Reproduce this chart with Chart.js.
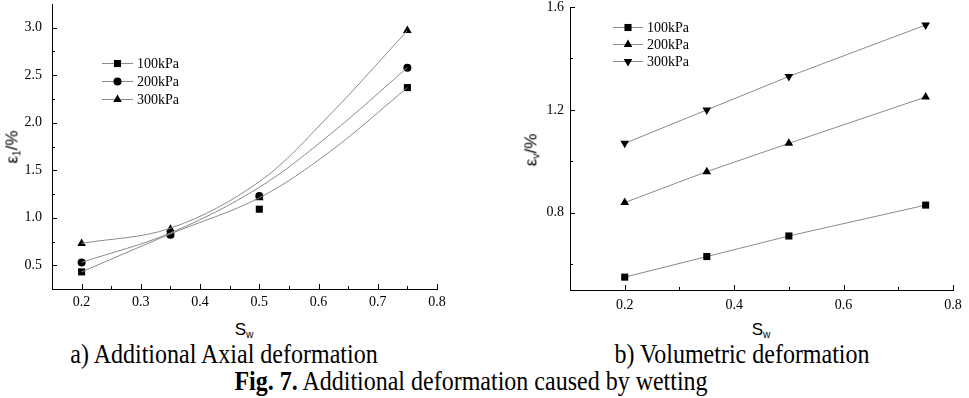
<!DOCTYPE html>
<html lang="en">
<head>
  <meta charset="UTF-8">
  <title>Fig. 7 Additional deformation caused by wetting</title>
  <script src="https://cdn.jsdelivr.net/npm/chart.js"></script>
  <style>
    body {
      margin: 0;
      background: #fff;
      width: 969px;
      height: 398px;
      position: relative;
      overflow: hidden;
      font-family: "Liberation Serif", "Times New Roman", serif;
      color: #000;
    }
    .box { position: absolute; }
    .ytitle, .xtitle {
      position: absolute;
      font-family: "Liberation Sans", Arial, sans-serif;
      font-size: 17px;
      white-space: nowrap;
      line-height: 1;
    }
    .ytitle { transform: translate(-50%, -50%) rotate(-90deg); }
    .xtitle { transform: translateX(-50%); }
    sub { font-size: 0.6em; vertical-align: -0.3em; }
    .caption {
      position: absolute;
      font-size: 24px;
      line-height: 24px;
      white-space: nowrap;
      transform: translateX(-50%) scaleY(1.15);
    }
  </style>
</head>
<body>
  <div class="box" style="left:0;top:0;width:460px;height:320px"><canvas id="axialChart"></canvas></div>
  <div class="box" style="left:500px;top:0;width:469px;height:320px"><canvas id="volChart"></canvas></div>

  <div class="ytitle" style="left:13px;top:147px">ε<sub>1</sub>/%</div>
  <div class="ytitle" style="left:532px;top:150px">ε<sub>v</sub>/%</div>
  <div class="xtitle" style="left:244px;top:321px">S<sub>w</sub></div>
  <div class="xtitle" style="left:761px;top:321px">S<sub>w</sub></div>

  <div class="caption" style="left:224px;top:342px">a) Additional Axial deformation</div>
  <div class="caption" style="left:742px;top:342px">b) Volumetric deformation</div>
  <div class="caption" style="left:471px;top:369px"><b>Fig. 7.</b> Additional deformation caused by wetting</div>

<script>
  // measured points (S_w vs strain %)
  const swVals = [0.2, 0.35, 0.5, 0.75];

  const axial100 = [0.43, 0.83, 1.09, 2.37];
  const axial200 = [0.53, 0.82, 1.23, 2.58];
  const axial300 = [0.73, 0.88, 1.21, 2.97];

  // fitted curves
  const fitSw = [0.2, 0.35, 0.5, 0.62, 0.75];
  const fit100 = [0.43, 0.83, 1.21, 1.70, 2.37];
  const fit200 = [0.53, 0.84, 1.32, 1.88, 2.58];
  const fit300 = [0.73, 0.89, 1.38, 2.09, 2.97];

  const vol100 = [0.55, 0.63, 0.71, 0.83];
  const vol200 = [0.84, 0.96, 1.07, 1.25];
  const vol300 = [1.07, 1.20, 1.33, 1.53];

  const axialXTicks = [0.2, 0.3, 0.4, 0.5, 0.6, 0.7, 0.8];
  const axialYTicks = [0.5, 1.0, 1.5, 2.0, 2.5, 3.0];
  const volXTicks = [0.2, 0.4, 0.6, 0.8];
  const volYTicks = [0.8, 1.2, 1.6];

  const seriesLabels = ['100kPa', '200kPa', '300kPa'];

  const serif = '"Liberation Serif", "Times New Roman", serif';
  const lineGray = '#8a8a8a';

  const pts = (xs, ys) => xs.map((x, i) => ({ x: x, y: ys[i] }));

  function fixedTicks(values) {
    return scale => { scale.ticks = values.map(v => ({ value: v })); };
  }

  function minorOf(values, min, max) {
    const step = values[1] - values[0];
    const out = [];
    values.forEach(v => out.push(v - step / 2));
    out.push(values[values.length - 1] + step / 2);
    return out.filter(v => v > min + 1e-6 && v < max - 1e-6);
  }

  // ticks drawn inside the plot, like the origin-style figure
  const inwardTicks = {
    id: 'inwardTicks',
    afterDraw(chart) {
      const ctx = chart.ctx;
      const xs = chart.scales.x, ys = chart.scales.y;
      const { left, bottom } = chart.chartArea;
      ctx.save();
      ctx.strokeStyle = '#000';
      ctx.lineWidth = 1;
      ctx.beginPath();
      const xMajor = xs.ticks.map(t => t.value);
      const yMajor = ys.ticks.map(t => t.value);
      xMajor.forEach(v => {
        const p = Math.round(xs.getPixelForValue(v)) + 0.5;
        ctx.moveTo(p, bottom); ctx.lineTo(p, bottom - 5);
      });
      minorOf(xMajor, xs.min, xs.max).forEach(v => {
        const p = Math.round(xs.getPixelForValue(v)) + 0.5;
        ctx.moveTo(p, bottom); ctx.lineTo(p, bottom - 3);
      });
      yMajor.forEach(v => {
        const p = Math.round(ys.getPixelForValue(v)) + 0.5;
        ctx.moveTo(left, p); ctx.lineTo(left + 5, p);
      });
      minorOf(yMajor, ys.min, ys.max).forEach(v => {
        const p = Math.round(ys.getPixelForValue(v)) + 0.5;
        ctx.moveTo(left, p); ctx.lineTo(left + 3, p);
      });
      ctx.stroke();
      ctx.restore();
    }
  };

  // legend with "—marker—" samples
  const lineLegend = {
    id: 'lineLegend',
    afterDraw(chart, args, opts) {
      const ctx = chart.ctx;
      const sets = chart.data.datasets.filter(d => d.inLegend);
      ctx.save();
      ctx.font = '14px ' + serif;
      ctx.textBaseline = 'middle';
      sets.forEach((d, i) => {
        const y = opts.y + i * opts.gap;
        ctx.strokeStyle = lineGray;
        ctx.lineWidth = 1;
        ctx.beginPath();
        ctx.moveTo(opts.x, y + 0.5);
        ctx.lineTo(opts.x + opts.len, y + 0.5);
        ctx.stroke();
        ctx.fillStyle = '#000';
        Chart.helpers.drawPoint(ctx, {
          pointStyle: d.pointStyle, radius: d.pointRadius, rotation: d.pointRotation || 0, borderWidth: 0
        }, opts.x + opts.len / 2, y + 0.5);
        ctx.fillText(d.label, opts.x + opts.len + 4, y + 1);
      });
      ctx.restore();
    }
  };

  function axisOpts(min, max, ticks, size, pad, isX) {
    return {
      type: 'linear',
      min: min,
      max: max,
      afterBuildTicks: fixedTicks(ticks),
      afterFit: s => {
        if (isX) s.height = size; else s.width = size;
        // no extra room for end labels, the plot box is fixed
        s.paddingTop = s.paddingBottom = s.paddingLeft = s.paddingRight = 0;
      },
      grid: { display: true, drawOnChartArea: false, drawTicks: false, color: 'rgba(0,0,0,0)' },
      border: { display: true, color: '#000', width: 1 },
      ticks: {
        padding: pad,
        color: '#000',
        font: { family: serif, size: 14 },
        callback: v => v.toFixed(1)
      }
    };
  }

  function markerSet(label, data, style, radius, rotation, withLine) {
    return {
      label: label,
      data: data,
      inLegend: true,
      showLine: withLine,
      borderColor: lineGray,
      borderWidth: 1,
      pointStyle: style,
      pointRadius: radius,
      pointRotation: rotation,
      pointBackgroundColor: '#000',
      pointBorderWidth: 0
    };
  }

  function curveSet(data) {
    return {
      data: data,
      showLine: true,
      borderColor: lineGray,
      borderWidth: 1,
      pointRadius: 0,
      tension: 0.35
    };
  }

  // nudge the raw padding object until the plot area sits where the figure has it
  function pinArea(chart, pad, want) {
    for (let i = 0; i < 4; i++) {
      const a = chart.chartArea;
      pad.top += want.top - a.top;
      pad.bottom += a.bottom - want.bottom;
      pad.left += want.left - a.left;
      pad.right += a.right - want.right;
      chart.update();
    }
  }

  const baseOpts = {
    responsive: true,
    maintainAspectRatio: false,
    animation: false,
    events: [],
    plugins: { legend: { display: false }, tooltip: { enabled: false } }
  };

  const axialPad = { top: 4, right: 23, left: 0, bottom: 0 };
  const axialChart = new Chart(document.getElementById('axialChart'), {
    type: 'scatter',
    data: {
      datasets: [
        curveSet(pts(fitSw, fit100)),
        curveSet(pts(fitSw, fit200)),
        curveSet(pts(fitSw, fit300)),
        markerSet(seriesLabels[0], pts(swVals, axial100), 'rect', 5, 0, false),
        markerSet(seriesLabels[1], pts(swVals, axial200), 'circle', 4, 0, false),
        markerSet(seriesLabels[2], pts(swVals, axial300), 'triangle', 5, 0, false)
      ]
    },
    options: Object.assign({}, baseOpts, {
      layout: { autoPadding: false, padding: axialPad },
      scales: {
        x: axisOpts(0.15, 0.8, axialXTicks, 31, 5, true),
        y: axisOpts(0.25, 3.25, axialYTicks, 52, 10, false)
      },
      plugins: Object.assign({}, baseOpts.plugins, {
        lineLegend: { x: 102, y: 63, gap: 18, len: 31 }
      })
    }),
    plugins: [inwardTicks, lineLegend]
  });
  pinArea(axialChart, axialPad, { left: 52, top: 4, right: 437, bottom: 289 });

  const volPad = { top: 7, right: 16, left: 0, bottom: 0 };
  const volChart = new Chart(document.getElementById('volChart'), {
    type: 'scatter',
    data: {
      datasets: [
        markerSet(seriesLabels[0], pts(swVals, vol100), 'rect', 5, 0, true),
        markerSet(seriesLabels[1], pts(swVals, vol200), 'triangle', 5, 0, true),
        markerSet(seriesLabels[2], pts(swVals, vol300), 'triangle', 5, 180, true)
      ]
    },
    options: Object.assign({}, baseOpts, {
      layout: { autoPadding: false, padding: volPad },
      scales: {
        x: axisOpts(0.1, 0.8, volXTicks, 30, 7, true),
        y: axisOpts(0.5, 1.6, volYTicks, 70, 6, false)
      },
      plugins: Object.assign({}, baseOpts.plugins, {
        lineLegend: { x: 113, y: 27, gap: 17, len: 30 }
      })
    }),
    plugins: [inwardTicks, lineLegend]
  });
  pinArea(volChart, volPad, { left: 70, top: 7, right: 453, bottom: 290 });
</script>
</body>
</html>
